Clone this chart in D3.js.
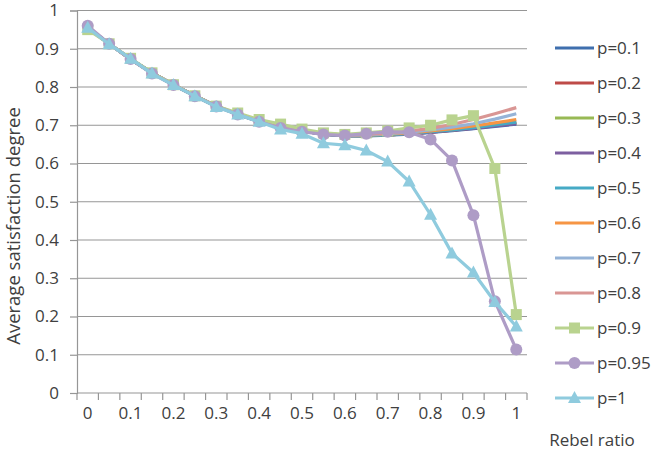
<!DOCTYPE html>
<html><head><meta charset="utf-8">
<script src="https://cdn.jsdelivr.net/npm/d3@7"></script>
<style>body{margin:0;background:#fff}svg{display:block}text{font-family:"Open Sans",sans-serif;fill:#404040}</style>
</head><body><svg id="c" width="656" height="450"></svg>
<script>
const categories = ["0","0.05","0.1","0.15","0.2","0.25","0.3","0.35","0.4","0.45","0.5","0.55","0.6","0.65","0.7","0.75","0.8","0.85","0.9","0.95","1"];
const tickLabels = ["0","0.1","0.2","0.3","0.4","0.5","0.6","0.7","0.8","0.9","1"];
const yTicks = [0,0.1,0.2,0.3,0.4,0.5,0.6,0.7,0.8,0.9,1];
const seriesNames = ["p=0.1","p=0.2","p=0.3","p=0.4","p=0.5","p=0.6","p=0.7","p=0.8","p=0.9","p=0.95","p=1"];
const p01 = [0.955,0.913,0.873,0.837,0.806,0.777,0.750,0.729,0.710,0.695,0.685,0.677,0.673,0.672,0.674,0.677,0.681,0.686,0.691,0.697,0.703];
const p02 = [0.955,0.913,0.873,0.837,0.806,0.777,0.750,0.729,0.710,0.695,0.685,0.677,0.673,0.673,0.675,0.678,0.682,0.687,0.693,0.700,0.707];
const p03 = [0.955,0.913,0.873,0.837,0.806,0.777,0.750,0.729,0.710,0.695,0.685,0.677,0.673,0.673,0.675,0.678,0.683,0.688,0.694,0.700,0.706];
const p04 = [0.955,0.913,0.873,0.837,0.806,0.777,0.750,0.729,0.710,0.695,0.685,0.677,0.673,0.673,0.675,0.678,0.682,0.687,0.692,0.698,0.704];
const p05 = [0.955,0.913,0.873,0.837,0.806,0.777,0.750,0.729,0.710,0.695,0.685,0.677,0.673,0.673,0.675,0.679,0.683,0.688,0.694,0.701,0.708];
const p06 = [0.955,0.913,0.873,0.837,0.806,0.777,0.750,0.729,0.710,0.695,0.685,0.678,0.674,0.674,0.677,0.680,0.685,0.691,0.698,0.706,0.715];
const p07 = [0.955,0.913,0.873,0.837,0.806,0.777,0.750,0.729,0.710,0.695,0.685,0.678,0.674,0.675,0.678,0.682,0.688,0.695,0.704,0.716,0.730];
const p08 = [0.955,0.913,0.873,0.837,0.806,0.777,0.750,0.729,0.710,0.695,0.685,0.678,0.675,0.676,0.680,0.685,0.692,0.702,0.715,0.730,0.746];
const p09 = [0.950,0.913,0.875,0.837,0.806,0.777,0.750,0.732,0.715,0.703,0.690,0.680,0.676,0.680,0.685,0.693,0.700,0.714,0.725,0.587,0.205];
const p095 = [0.960,0.913,0.873,0.835,0.805,0.776,0.749,0.728,0.709,0.693,0.683,0.676,0.673,0.678,0.683,0.682,0.663,0.608,0.465,0.240,0.114];
const p1 = [0.955,0.912,0.874,0.835,0.805,0.776,0.748,0.728,0.709,0.689,0.678,0.653,0.648,0.634,0.605,0.553,0.466,0.365,0.315,0.238,0.174];
const seriesValues = [p01,p02,p03,p04,p05,p06,p07,p08,p09,p095,p1];
const colors = ["#3F6FAE","#BE4B48","#98B954","#7D5FA0","#46AAC5","#F69544","#95B3D7","#D99694","#B9D38F","#AE9CC6","#8FCBDE"];
const markers = [null,null,null,null,null,null,null,null,"square","circle","triangle"];

const svg = d3.select("#c");
const L = 77, R = 527, T = 10.5, B = 393;
const x = d3.scaleBand().domain(categories).range([L, R]).paddingInner(0).paddingOuter(0);
const xc = d => x(d) + x.bandwidth()/2;
const y = d3.scaleLinear().domain([0,1]).range([B, T]);
const axisCol = "#969696";

// gridlines
svg.append("g").selectAll("line").data(yTicks.filter(v => v > 0)).join("line")
  .attr("x1", L).attr("x2", R).attr("y1", d => y(d)).attr("y2", d => y(d))
  .attr("stroke", axisCol).attr("stroke-width", 1.2);

// y axis
const ya = svg.append("g").attr("transform", `translate(${L},0)`)
  .call(d3.axisLeft(y).tickValues(yTicks).tickSize(7).tickPadding(11).tickFormat(d3.format("~g")));
ya.select(".domain").attr("stroke", axisCol).attr("stroke-width", 1.2);
ya.selectAll(".tick line").attr("stroke", axisCol).attr("stroke-width", 1.2);
ya.selectAll("text").style("font-size", "17px").attr("fill", "#404040").attr("font-family", "Open Sans");

// x axis
const xa = svg.append("g").attr("transform", `translate(0,${B})`);
xa.append("line").attr("x1", L).attr("x2", R).attr("stroke", axisCol).attr("stroke-width", 1.2);
xa.selectAll("line.tk").data(categories.concat(["end"])).join("line").attr("class","tk")
  .attr("x1", (d,i) => i < categories.length ? x(d) : R)
  .attr("x2", (d,i) => i < categories.length ? x(d) : R)
  .attr("y1", 0).attr("y2", 7).attr("stroke", axisCol).attr("stroke-width", 1.2);
xa.selectAll("text").data(tickLabels).join("text")
  .attr("x", d => xc(d)).attr("y", 26).attr("text-anchor", "middle")
  .style("font-size", "17px").text(d => d);

// axis titles
svg.append("text").attr("transform", "translate(20,226) rotate(-90)").attr("text-anchor","middle")
  .style("font-size","18.5px").text("Average satisfaction degree");
svg.append("text").attr("x", 592).attr("y", 446).attr("text-anchor","middle")
  .style("font-size","17px").text("Rebel ratio");

// lines
const line = d3.line().x((d,i) => xc(categories[i])).y(d => y(d));
function drawMarker(g, type, cx, cy, col) {
  if (type === "square") g.append("rect").attr("x", cx-5.5).attr("y", cy-5.5).attr("width", 11).attr("height", 11).attr("fill", col);
  else if (type === "circle") g.append("circle").attr("cx", cx).attr("cy", cy).attr("r", 6).attr("fill", col);
  else if (type === "triangle") g.append("path").attr("d", `M${cx},${cy-7}L${cx+6.5},${cy+5}L${cx-6.5},${cy+5}Z`).attr("fill", col);
}
seriesValues.forEach((vals, s) => {
  const g = svg.append("g");
  g.append("path").attr("d", line(vals)).attr("fill","none").attr("stroke", colors[s])
    .attr("stroke-width", 3.2).attr("stroke-linejoin","round");
  if (markers[s]) vals.forEach((v,i) => drawMarker(g, markers[s], xc(categories[i]), y(v), colors[s]));
});

// legend
const lg = svg.append("g");
seriesNames.forEach((n, s) => {
  const cy = 48 + s*35;
  lg.append("line").attr("x1", 555).attr("x2", 594).attr("y1", cy).attr("y2", cy)
    .attr("stroke", colors[s]).attr("stroke-width", 3.2);
  if (markers[s]) drawMarker(lg, markers[s], 574.5, cy, colors[s]);
  lg.append("text").attr("x", 597).attr("y", cy + 6).style("font-size","17px").text(n);
});
</script></body></html>
